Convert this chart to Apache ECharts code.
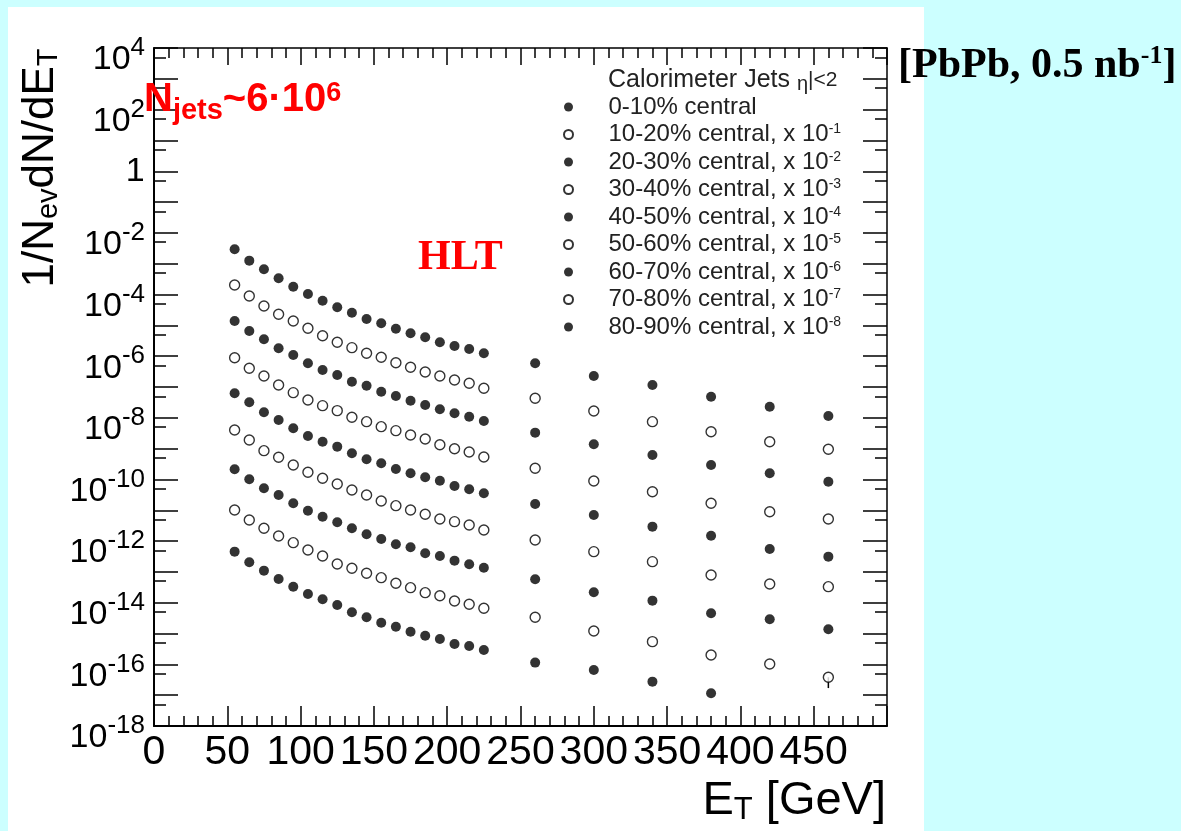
<!DOCTYPE html>
<html>
<head>
<meta charset="utf-8">
<script src="https://cdn.jsdelivr.net/npm/echarts@6/dist/echarts.min.js"></script>
<style>
  html, body { margin: 0; padding: 0; background: #ccffff; }
  #sheet { position: absolute; left: 8px; top: 7px; width: 916px; height: 824px; background: #ffffff; }
  #chart { position: absolute; left: 0; top: 0; width: 1181px; height: 831px; }
</style>
</head>
<body>
<div id="sheet"></div>
<div id="chart"></div>
<script>
// Jet E_T spectra per centrality class, each class scaled down by a power of ten.
const SANS = '"Liberation Sans", Arial, Helvetica, sans-serif';
const SERIF = '"Liberation Serif", "Times New Roman", serif';

// bin centres [GeV]: 10 GeV bins up to 230, 40 GeV bins above
const etBins = [55, 65, 75, 85, 95, 105, 115, 125, 135, 145, 155, 165, 175, 185, 195, 205, 215, 225,
                260, 300, 340, 380, 420, 460];

const centralityBins = ['0-10%', '10-20%', '20-30%', '30-40%', '40-50%', '50-60%', '60-70%', '70-80%', '80-90%'];
const scaleExponents = [0, -1, -2, -3, -4, -5, -6, -7, -8];

// 1/N_ev dN/dE_T, already multiplied by the class scale factor
const c0_10 = [2.94e-3, 1.26e-3, 6.59e-4, 3.37e-4, 1.80e-4, 1.04e-4, 6.32e-5, 3.86e-5, 2.58e-5, 1.61e-5, 1.17e-5, 7.80e-6,
               5.53e-6, 4.10e-6, 2.82e-6, 2.14e-6, 1.71e-6, 1.24e-6, 5.89e-7, 2.28e-7, 1.16e-7, 4.85e-8, 2.30e-8, 1.15e-8];
const c10_20 = [2.04e-4, 8.98e-5, 4.26e-5, 2.29e-5, 1.39e-5, 8.04e-6, 4.62e-6, 2.82e-6, 1.89e-6, 1.24e-6, 9.20e-7, 6.15e-7,
                4.36e-7, 3.07e-7, 2.28e-7, 1.69e-7, 1.32e-7, 9.08e-8, 4.31e-8, 1.67e-8, 7.50e-9, 3.55e-9, 1.68e-9, 9.50e-10];
const c20_30 = [1.39e-5, 6.58e-6, 3.53e-6, 1.80e-6, 1.09e-6, 5.89e-7, 3.56e-7, 2.45e-7, 1.49e-7, 1.10e-7, 7.05e-8, 5.12e-8,
                3.60e-8, 2.61e-8, 1.89e-8, 1.40e-8, 1.09e-8, 7.91e-9, 3.30e-9, 1.38e-9, 6.22e-10, 2.95e-10, 1.58e-10, 8.47e-11];
const c30_40 = [8.93e-7, 4.05e-7, 2.28e-7, 1.16e-7, 6.55e-8, 3.79e-8, 2.48e-8, 1.71e-8, 1.04e-8, 7.50e-9, 5.16e-9, 3.83e-9,
                2.77e-9, 2.06e-9, 1.34e-9, 9.97e-10, 7.80e-10, 5.36e-10, 2.31e-10, 8.93e-11, 4.01e-11, 1.69e-11, 9.00e-12, 5.22e-12];
const c40_50 = [6.25e-8, 3.19e-8, 1.51e-8, 8.51e-9, 4.57e-9, 2.58e-9, 1.68e-9, 1.16e-9, 7.06e-10, 4.52e-10, 3.35e-10, 2.19e-10,
                1.58e-10, 1.18e-10, 9.12e-11, 6.14e-11, 4.80e-11, 3.56e-11, 1.60e-11, 7.03e-12, 2.94e-12, 1.50e-12, 5.55e-13, 3.13e-13];
const c50_60 = [4.03e-9, 1.91e-9, 8.59e-10, 5.25e-10, 2.95e-10, 1.71e-10, 1.09e-10, 7.13e-11, 4.56e-11, 3.13e-11, 2.00e-11, 1.41e-11,
                1.02e-11, 7.41e-12, 5.22e-12, 4.27e-12, 3.33e-12, 2.30e-12, 1.09e-12, 4.54e-13, 2.15e-13, 7.96e-14, 4.06e-14, 3.32e-14];
const c60_70 = [2.14e-10, 1.01e-10, 5.18e-11, 3.13e-11, 1.69e-11, 9.70e-12, 6.19e-12, 4.08e-12, 2.61e-12, 1.66e-12, 1.17e-12, 7.89e-13,
                6.31e-13, 4.03e-13, 3.29e-13, 2.32e-13, 1.77e-13, 1.37e-13, 5.77e-14, 2.18e-14, 1.17e-14, 4.55e-15, 2.90e-15, 1.38e-15];
const c70_80 = [1.02e-11, 4.84e-12, 2.61e-12, 1.47e-12, 8.89e-13, 5.15e-13, 3.29e-13, 1.81e-13, 1.31e-13, 9.03e-14, 6.50e-14, 4.28e-14,
                3.08e-14, 2.12e-14, 1.69e-14, 1.14e-14, 8.91e-15, 6.61e-15, 3.37e-15, 1.21e-15, 5.46e-16, 2.02e-16, 1.03e-16, 3.81e-17];
const c80_90 = [4.54e-13, 2.06e-13, 1.10e-13, 5.90e-14, 3.32e-14, 1.92e-14, 1.29e-14, 8.45e-15, 4.90e-15, 3.37e-15, 2.25e-15, 1.67e-15,
                1.15e-15, 8.53e-16, 6.67e-16, 4.59e-16, 3.95e-16, 2.93e-16, 1.14e-16, 6.58e-17, 2.75e-17, 1.15e-17, null, null];
const spectra = [c0_10, c10_20, c20_30, c30_40, c40_50, c50_60, c60_70, c70_80, c80_90];

// the one error bar that sticks out of its marker: 70-80 % class, last bin
const errorBars = [{ et: 460, low: 1.7e-17, high: 3.81e-17 }];

// axis ticks
const xMax = 500;
const yTickValues = [1e-18, 1e-17, 1e-16, 1e-15, 1e-14, 1e-13, 1e-12, 1e-11, 1e-10, 1e-9, 1e-8, 1e-7, 1e-6, 1e-5,
                     1e-4, 1e-3, 1e-2, 1e-1, 1, 1e1, 1e2, 1e3, 1e4];
const ySubTickValues = [5e-18, 5e-17, 5e-16, 5e-15, 5e-14, 5e-13, 5e-12, 5e-11, 5e-10, 5e-9, 5e-8, 5e-7, 5e-6, 5e-5,
                        5e-4, 5e-3, 5e-2, 5e-1, 5, 5e1, 5e2, 5e3];
const yLabelValues = [1e-18, 1e-16, 1e-14, 1e-12, 1e-10, 1e-8, 1e-6, 1e-4, 1e-2, 1, 1e2, 1e4];

const seriesNames = centralityBins.map(b => b + ' central');

const chart = echarts.init(document.getElementById('chart'), null, { renderer: 'canvas' });

// "10" sits a little below its tick, the exponent level with it; "1" is centred on its tick
function powerLabel(v) {
  const p = Math.round(Math.log10(v));
  return p === 0 ? '{one|1}{sp| }' : '{b|10}{s|' + p + '}';
}

const yLog = { type: 'log', logBase: 10, min: 1e-18, max: 1e4, gridIndex: 0, splitLine: { show: false }, minorTick: { show: false } };

function yAxisPair(position) {
  const main = Object.assign({}, yLog, {
    position,
    axisLine: { show: true, lineStyle: { color: '#000', width: position === 'left' ? 2 : 1.5 } },
    axisTick: { show: true, inside: true, length: 24, customValues: yTickValues, lineStyle: { color: '#000', width: 1.5 } },
    axisLabel: position === 'left' ? {
      show: true, customValues: yLabelValues, formatter: powerLabel, margin: 9,
      padding: [16, 0, 0, 0],
      rich: {
        b: { fontFamily: SANS, fontSize: 34, lineHeight: 42, verticalAlign: 'bottom', color: '#000' },
        s: { fontFamily: SANS, fontSize: 26, lineHeight: 26, verticalAlign: 'top', color: '#000' },
        one: { fontFamily: SANS, fontSize: 34, lineHeight: 34, verticalAlign: 'top', color: '#000' },
        sp: { fontFamily: SANS, fontSize: 1, lineHeight: 50, color: '#000' }
      }
    } : { show: false }
  });
  const sub = Object.assign({}, yLog, {
    position,
    axisLine: { show: false },
    axisTick: { show: true, inside: true, length: 12, customValues: ySubTickValues, lineStyle: { color: '#000', width: 1.5 } },
    axisLabel: { show: false }
  });
  return [main, sub];
}

function xAxisDef(position) {
  return {
    type: 'value', position, min: 0, max: xMax, interval: 50, gridIndex: 0,
    splitLine: { show: false },
    axisLine: { show: true, lineStyle: { color: '#000', width: position === 'bottom' ? 2 : 1.5 } },
    axisTick: { show: true, inside: true, length: position === 'bottom' ? 20 : 17, lineStyle: { color: '#000', width: 1.5 } },
    minorTick: { show: true, splitNumber: 5, length: 10, lineStyle: { color: '#000', width: 1.5 } },
    axisLabel: position === 'bottom' ? {
      show: true, margin: 6, fontFamily: SANS, fontSize: 41, color: '#000',
      formatter: v => (v >= xMax ? '' : String(v))
    } : { show: false }
  };
}

const series = spectra.map((vals, i) => {
  const open = i % 2 === 1;
  return {
    name: seriesNames[i],
    type: 'scatter',
    xAxisIndex: 0,
    yAxisIndex: 0,
    symbol: 'circle',
    symbolSize: 10,
    itemStyle: open ? { color: '#ffffff', borderColor: '#000', borderWidth: 1.4 } : { color: '#000', borderWidth: 0 },
    emphasis: { disabled: true },
    data: etBins.map((e, k) => (vals[k] == null ? null : [e, vals[k]])).filter(d => d !== null),
    z: 5
  };
});

series.push({
  type: 'custom',
  name: 'errors',
  xAxisIndex: 0,
  yAxisIndex: 0,
  z: 4,
  data: errorBars.map(e => [e.et, e.low, e.high]),
  renderItem: (params, api) => {
    const lo = api.coord([api.value(0), api.value(1)]);
    const hi = api.coord([api.value(0), api.value(2)]);
    return { type: 'line', shape: { x1: lo[0], y1: lo[1], x2: hi[0], y2: hi[1] }, style: { stroke: '#000', lineWidth: 1.5 } };
  }
});

const option = {
  animation: false,
  grid: { left: 154, top: 48, width: 733, height: 678, containLabel: false },
  xAxis: [xAxisDef('bottom'), xAxisDef('top')],
  yAxis: [...yAxisPair('left'), ...yAxisPair('right')],
  legend: {
    orient: 'vertical', left: 558, top: 90, itemWidth: 70, itemHeight: 9, itemGap: 3.5,
    icon: 'circle', selectedMode: false,
    data: seriesNames,
    textStyle: {
      fontFamily: SANS, fontSize: 24, lineHeight: 24, color: '#222',
      rich: { sup: { fontFamily: SANS, fontSize: 14, lineHeight: 10, verticalAlign: 'top', color: '#222' } }
    },
    formatter: name => {
      const p = scaleExponents[seriesNames.indexOf(name)];
      return p === 0 ? name : name + ', x 10{sup|' + p + '}';
    }
  },
  graphic: [
    { // legend header
      type: 'text', left: 608, top: 66, z: 10,
      style: {
        text: '{t|Calorimeter Jets }{e|η}{c||<2}',
        rich: {
          t: { fontFamily: SANS, fontSize: 25, lineHeight: 26, fill: '#222' },
          e: { fontFamily: SANS, fontSize: 20, lineHeight: 26, padding: [8, 0, 0, 0], fill: '#222' },
          c: { fontFamily: SANS, fontSize: 21, lineHeight: 26, fill: '#222' }
        }
      }
    },
    { // y axis title
      type: 'text', x: 41, y: 168, rotation: Math.PI / 2, z: 10,
      style: {
        text: '{b|1/N}{s|ev}{b|dN/dE}{s|T}',
        align: 'center', verticalAlign: 'middle',
        rich: {
          b: { fontFamily: SANS, fontSize: 44, lineHeight: 48, fill: '#000' },
          s: { fontFamily: SANS, fontSize: 29, lineHeight: 48, padding: [16, 0, 0, 0], fill: '#000' }
        }
      }
    },
    { // x axis title
      type: 'text', x: 886, y: 801, z: 10,
      style: {
        text: '{b|E}{s|T}{b| [GeV]}',
        align: 'right', verticalAlign: 'middle',
        rich: {
          b: { fontFamily: SANS, fontSize: 47, lineHeight: 52, fill: '#000' },
          s: { fontFamily: SANS, fontSize: 31, lineHeight: 52, padding: [18, 0, 0, 0], fill: '#000' }
        }
      }
    },
    { // jet count
      type: 'text', x: 144, y: 100, z: 10,
      style: {
        text: '{b|N}{s|jets}{b|~6·10}{p|6}',
        align: 'left', verticalAlign: 'middle',
        rich: {
          b: { fontFamily: SANS, fontWeight: 'bold', fontSize: 40, lineHeight: 40, fill: '#ff0000' },
          s: { fontFamily: SANS, fontWeight: 'bold', fontSize: 29, lineHeight: 40, padding: [22, 0, 0, 0], fill: '#ff0000' },
          p: { fontFamily: SANS, fontWeight: 'bold', fontSize: 27, lineHeight: 20, verticalAlign: 'top', fill: '#ff0000' }
        }
      }
    },
    { // trigger label
      type: 'text', x: 418, y: 258, z: 10,
      style: { text: 'HLT', fontFamily: SERIF, fontWeight: 'bold', fontSize: 42, fill: '#ff0000', align: 'left', verticalAlign: 'middle' }
    },
    { // collision system and luminosity
      type: 'text', x: 898, y: 66, z: 10,
      style: {
        text: '{b|[PbPb, 0.5 nb}{s|-1}{b|]}',
        align: 'left', verticalAlign: 'middle',
        rich: {
          b: { fontFamily: SERIF, fontWeight: 'bold', fontSize: 42, lineHeight: 46, fill: '#000' },
          s: { fontFamily: SERIF, fontWeight: 'bold', fontSize: 26, lineHeight: 24, verticalAlign: 'top', fill: '#000' }
        }
      }
    }
  ],
  series
};

chart.setOption(option);
</script>
</body>
</html>
